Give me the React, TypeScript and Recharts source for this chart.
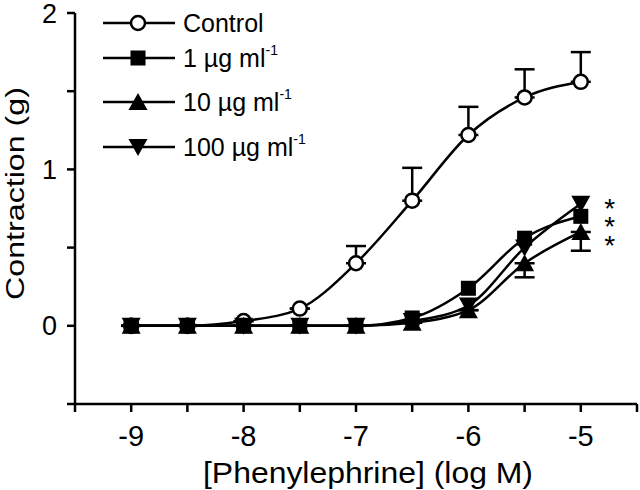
import React from 'react';
import { LineChart, Line, XAxis, YAxis, ErrorBar, LabelList } from 'recharts';

// log M phenylephrine
const doses = [-9, -8.5, -8, -7.5, -7, -6.5, -6, -5.5, -5];
const control = [0, 0, 0.03, 0.11, 0.4, 0.8, 1.22, 1.46, 1.56];
const controlSem = [0, 0, 0, 0, 0.11, 0.21, 0.18, 0.18, 0.19];
const dose1 = [0, 0, 0, 0, 0, 0.05, 0.24, 0.56, 0.7];
const dose10 = [0, 0, 0, 0, 0, 0.02, 0.1, 0.4, 0.6];
const dose10Sem = [0, 0, 0, 0, 0, 0, 0, 0.09, 0.12];
const dose100 = [0, 0, 0, 0, 0, 0.03, 0.13, 0.5, 0.78];

const xTicks = [-9.5, -9, -8.5, -8, -7.5, -7, -6.5, -6, -5.5, -5, -4.5];
const yTicks = [-0.5, 0, 0.5, 1, 1.5, 2];

const legendItems = [
  { label: 'Control', marker: 'circle' },
  { label: '1 \u00b5g ml', marker: 'square' },
  { label: '10 \u00b5g ml', marker: 'up' },
  { label: '100 \u00b5g ml', marker: 'down' },
];

// significance marks next to the last dose, one per treated series
const sigMarks = ['*', '*', '*'];

const data = doses.map((x, i) => ({
  x,
  control: control[i],
  controlErr: [0, controlSem[i]],
  d1: dose1[i],
  d10: dose10[i],
  d10Err: [dose10Sem[i], 0],
  d100: dose100[i],
}));

const FONT = "Arial, 'Liberation Sans', Helvetica, sans-serif";
const INK = '#000';

const Marker = ({ type, cx, cy }: { type: string; cx: number; cy: number }) => {
  if (type === 'circle')
    return <circle cx={cx} cy={cy} r={7} fill="#fff" stroke={INK} strokeWidth={2.5} />;
  if (type === 'square')
    return <rect x={cx - 7.5} y={cy - 7.5} width={15} height={15} fill={INK} />;
  if (type === 'up')
    return <path d={`M${cx},${cy - 9} L${cx + 9.5},${cy + 8} L${cx - 9.5},${cy + 8} Z`} fill={INK} />;
  return <path d={`M${cx},${cy + 9} L${cx + 9.5},${cy - 8} L${cx - 9.5},${cy - 8} Z`} fill={INK} />;
};

const dotFor = (type: string) => (p: any) =>
  <Marker key={`${type}-${p.index}`} type={type} cx={p.cx} cy={p.cy} />;

// stacked asterisks drawn beside the top (100 µg) point at the highest dose
const stars = (count: number) => (p: any) => {
  if (p.index !== count - 1) return null;
  return (
    <text fontFamily={FONT} fontSize={28} fill={INK} textAnchor="middle">
      {sigMarks.map((s, i) => (
        <tspan key={i} x={p.x + 29} y={p.y + 14 + i * 18.5}>
          {s}
        </tspan>
      ))}
    </text>
  );
};

const fmt = (v: number) => (Number.isInteger(v) ? String(v) : '');

const Legend = () => (
  <svg width={640} height={490} style={{ position: 'absolute', left: 0, top: 0, pointerEvents: 'none' }}>
    {legendItems.map((item, i) => {
      const y = [23, 58, 102, 147][i];
      return (
        <g key={item.label}>
          <line x1={103} x2={175} y1={y} y2={y} stroke={INK} strokeWidth={2.5} />
          <Marker type={item.marker} cx={138} cy={y} />
          <text x={183} y={y + 9} fontFamily={FONT} fontSize={25} fill={INK}>
            {item.label}
            {i > 0 && (
              <tspan fontSize={14} dy={-12}>
                -1
              </tspan>
            )}
          </text>
        </g>
      );
    })}
  </svg>
);

const App: React.FC = () => {
  const axisStyle = { stroke: INK, strokeWidth: 2.5 };
  const xTickStyle = { fontSize: 29, fill: INK, fontFamily: FONT };
  const yTickStyle = { fontSize: 27, fill: INK, fontFamily: FONT };

  return (
    <div style={{ position: 'absolute', left: 0, top: 0, width: 640, height: 490, background: '#fff' }}>
      <LineChart width={640} height={490} data={data} margin={{ top: 13, right: 3, bottom: 0, left: 0 }}>
        <XAxis
          dataKey="x"
          type="number"
          domain={[-9.5, -4.5]}
          ticks={xTicks}
          tickFormatter={fmt}
          height={86}
          axisLine={axisStyle}
          tickLine={axisStyle}
          tickSize={8}
          tickMargin={13}
          tick={xTickStyle}
          interval={0}
          label={{
            content: (p: any) => (
              <text
                x={368}
                y={p.viewBox.y + 79}
                textAnchor="middle"
                textLength={330}
                lengthAdjust="spacingAndGlyphs"
                fontFamily={FONT}
                fontSize={29}
                fill={INK}
              >
                [Phenylephrine] (log M)
              </text>
            ),
          }}
        />
        <YAxis
          type="number"
          domain={[-0.5, 2]}
          ticks={yTicks}
          tickFormatter={fmt}
          width={75}
          axisLine={axisStyle}
          tickLine={axisStyle}
          tickSize={8}
          tickMargin={10}
          tick={yTickStyle}
          interval={0}
          label={{
            content: (p: any) => {
              const cx = 15;
              const cy = p.viewBox.y + p.viewBox.height / 2 - 15;
              return (
                <text
                  x={cx}
                  y={cy}
                  transform={`rotate(-90 ${cx} ${cy})`}
                  textAnchor="middle"
                  dominantBaseline="central"
                  textLength={213}
                  lengthAdjust="spacingAndGlyphs"
                  fontFamily={FONT}
                  fontSize={25}
                  fill={INK}
                >
                  Contraction (g)
                </text>
              );
            },
          }}
        />
        <Line dataKey="control" type="monotone" stroke={INK} strokeWidth={2.5} dot={dotFor('circle')} isAnimationActive={false}>
          <ErrorBar dataKey="controlErr" direction="y" width={10} stroke={INK} strokeWidth={2.5} />
        </Line>
        <Line dataKey="d1" type="monotone" stroke={INK} strokeWidth={2.5} dot={dotFor('square')} isAnimationActive={false} />
        <Line dataKey="d10" type="monotone" stroke={INK} strokeWidth={2.5} dot={dotFor('up')} isAnimationActive={false}>
          <ErrorBar dataKey="d10Err" direction="y" width={10} stroke={INK} strokeWidth={2.5} />
        </Line>
        <Line dataKey="d100" type="monotone" stroke={INK} strokeWidth={2.5} dot={dotFor('down')} isAnimationActive={false}>
          <LabelList content={stars(doses.length)} />
        </Line>
      </LineChart>
      <Legend />
    </div>
  );
};

export default App;
